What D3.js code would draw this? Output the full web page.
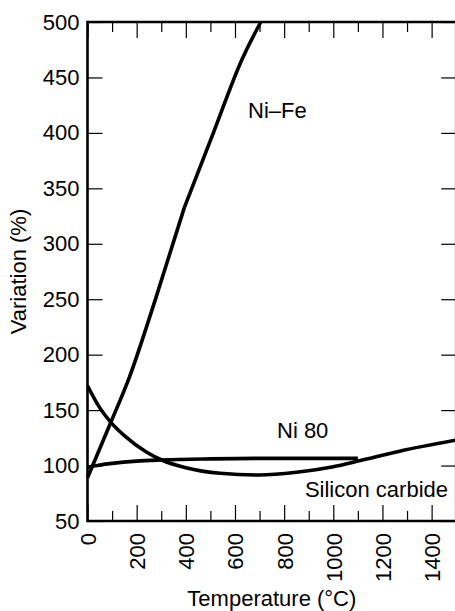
<!DOCTYPE html>
<html><head><meta charset="utf-8">
<script src="https://cdn.jsdelivr.net/npm/d3@7"></script>
<style>
body{margin:0;background:#fff}
svg text{font-family:"Liberation Sans",Arial,Helvetica,sans-serif;fill:#000}
</style>
</head><body><svg id="c" width="455" height="611"></svg>
<script>
// ---- data ----
const niFeTemp = [0, 95, 171, 275, 393, 512, 628, 705];
const niFeVal  = [89, 139, 180, 249, 332, 400, 466, 500];
const niFeKinkIndex = 4; // visible kink near 400 °C
const ni80Temp = [0, 50, 100, 200, 300, 500, 700, 900, 1100];
const ni80Val  = [98.5, 100.5, 102, 104, 105, 106, 106.5, 106.5, 106.5];
const sicTemp  = [0, 50, 95, 150, 241, 302, 400, 540, 700, 850, 1000, 1100, 1270, 1500];
const sicVal   = [172, 152, 139, 127, 112, 105, 98, 93, 91.5, 94, 99, 104, 113, 123];
const xMajorTicks = [0, 200, 400, 600, 800, 1000, 1200, 1400];
const xMinorTicks = [100, 300, 500, 700, 900, 1100, 1300, 1500];
const yTicks = [50, 100, 150, 200, 250, 300, 350, 400, 450, 500];
const seriesLabels = ["Ni\u2013Fe", "Ni 80", "Silicon carbide"];
const xTitle = "Temperature (\u00B0C)";
const yTitle = "Variation (%)";

// ---- layout ----
const L = 87.5, R = 456.2, T = 22, B = 521;
const FS = 22;
const svg = d3.select("#c");
const x = d3.scaleLinear().domain([0, 1500]).range([L, R]);
const y = d3.scaleLinear().domain([50, 500]).range([B, T]);

function styleTicks(g){
  g.select(".domain").remove();
  g.selectAll(".tick line").attr("stroke","#000").attr("stroke-width",1.2);
}
// inward ticks
svg.append("g").attr("transform",`translate(0,${B})`)
  .call(d3.axisBottom(x).tickValues(xMajorTicks).tickSize(-16).tickFormat(""))
  .call(styleTicks);
svg.append("g").attr("transform",`translate(0,${B})`)
  .call(d3.axisBottom(x).tickValues(xMinorTicks).tickSize(-10).tickFormat(""))
  .call(styleTicks);
svg.append("g").attr("transform",`translate(0,${T})`)
  .call(d3.axisTop(x).tickValues(xMajorTicks).tickSize(-16).tickFormat(""))
  .call(styleTicks);
svg.append("g").attr("transform",`translate(0,${T})`)
  .call(d3.axisTop(x).tickValues(xMinorTicks).tickSize(-10).tickFormat(""))
  .call(styleTicks);
svg.append("g").attr("transform",`translate(${L},0)`)
  .call(d3.axisLeft(y).tickValues(yTicks).tickSize(-15).tickFormat(""))
  .call(styleTicks);
svg.append("g").attr("transform",`translate(${R},0)`)
  .call(d3.axisRight(y).tickValues(yTicks).tickSize(-15).tickFormat(""))
  .call(styleTicks);

// tick labels
const yl = svg.append("g").attr("transform",`translate(${L},0)`)
  .call(d3.axisLeft(y).tickValues(yTicks).tickSize(0).tickPadding(8).tickFormat(d3.format("d")));
yl.select(".domain").remove();
yl.attr("font-size",FS).attr("font-family",null);

const xl = svg.append("g").attr("transform",`translate(0,${B})`)
  .call(d3.axisBottom(x).tickValues(xMajorTicks).tickSize(0).tickFormat(d3.format("d")));
xl.select(".domain").remove();
xl.attr("font-size",FS).attr("font-family",null);
xl.selectAll("text").attr("transform","rotate(-90)").attr("text-anchor","end")
  .attr("x",-12).attr("y",0).attr("dy","0.36em");

// frame
svg.append("path")
  .attr("d",`M${R},${T}H${L}V${B}H${R}V${T}`)
  .attr("fill","none").attr("stroke","#000").attr("stroke-width",2.6);

// curves
const line = d3.line().x(d=>x(d[0])).y(d=>y(d[1])).curve(d3.curveMonotoneX);
const niFe = d3.zip(niFeTemp, niFeVal);
const niFePath = line(niFe.slice(0, niFeKinkIndex + 1)) + line(niFe.slice(niFeKinkIndex)).replace(/^M[^CLM]*/, m => "L" + m.slice(1));
const paths = [
  niFePath,
  line(d3.zip(ni80Temp, ni80Val)),
  line(d3.zip(sicTemp, sicVal))
];
svg.append("g").selectAll("path").data(paths).join("path")
  .attr("d",d=>d).attr("fill","none").attr("stroke","#000")
  .attr("stroke-width",3.6).attr("stroke-linejoin","round").attr("stroke-linecap","butt");

// series labels
svg.append("text").attr("x",248).attr("y",118).attr("font-size",FS).text(seriesLabels[0]);
svg.append("text").attr("x",277).attr("y",438).attr("font-size",FS).text(seriesLabels[1]);
svg.append("text").attr("x",448).attr("y",497).attr("font-size",FS).attr("text-anchor","end").text(seriesLabels[2]);

// axis titles
svg.append("text").attr("x",(L+R)/2).attr("y",606).attr("font-size",FS)
  .attr("text-anchor","middle").text(xTitle);
svg.append("text").attr("transform",`translate(26,${(T+B)/2}) rotate(-90)`)
  .attr("font-size",FS).attr("text-anchor","middle").text(yTitle);
</script>
</body></html>
